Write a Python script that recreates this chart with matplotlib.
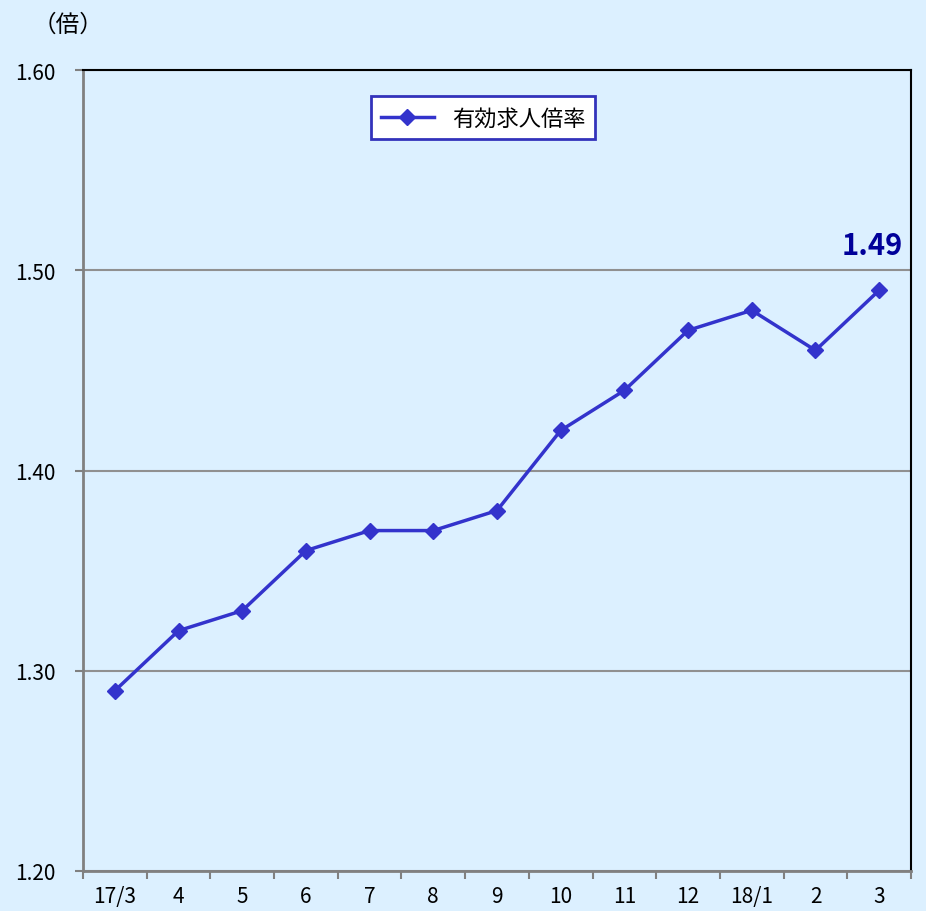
import numpy as np
import matplotlib.pyplot as plt

plt.rcParams['font.family'] = ['Noto Sans CJK JP', 'DejaVu Sans']

months = ['17/3', '4', '5', '6', '7', '8', '9', '10', '11', '12', '18/1', '2', '3']
ratio = [1.29, 1.32, 1.33, 1.36, 1.37, 1.37, 1.38, 1.42, 1.44, 1.47, 1.48, 1.46, 1.49]

bg = '#dcf0ff'
fig = plt.figure(figsize=(9.26, 9.12), dpi=100, facecolor=bg)
ax = fig.add_axes([0.0896, 0.0439, 0.8942, 0.8782], facecolor=bg)

x = np.arange(len(months))
ax.plot(x, ratio, color='#3333cc', lw=2.5, marker='D', ms=8, label='有効求人倍率')

ax.set_xlim(-0.5, len(months) - 0.5)
ax.set_ylim(1.20, 1.60)
ax.set_yticks(np.arange(1.20, 1.61, 0.10))
ax.set_yticklabels(['%.2f' % v for v in np.arange(1.20, 1.61, 0.10)], fontsize=15)
ax.set_xticks(x)
ax.set_xticklabels(months, fontsize=15)
ax.set_xticks(np.arange(-0.5, len(months), 1), minor=True)
ax.tick_params(axis='x', which='major', length=0, pad=10)
ax.tick_params(axis='x', which='minor', length=6, color='#808080', width=1.5)
ax.tick_params(axis='y', length=6, color='#808080', width=1.5, pad=14)

ax.grid(axis='y', color='#909090', lw=1.5)
for s in ['top', 'right']:
    ax.spines[s].set_color('black')
    ax.spines[s].set_linewidth(1.5)
for s in ['left', 'bottom']:
    ax.spines[s].set_color('#808080')
    ax.spines[s].set_linewidth(2)

ax.text(x[-1] + 0.38, ratio[-1] + 0.015, '%.2f' % ratio[-1], color='#000099', fontsize=21,
        fontweight='bold', ha='right', va='bottom')

leg = ax.legend(loc='upper left', bbox_to_anchor=(0.334, 0.981), fontsize=16, fancybox=False,
                handlelength=2.4, borderpad=0.45)
leg.get_frame().set_edgecolor('#3333bb')
leg.get_frame().set_linewidth(2)
leg.get_frame().set_facecolor('white')
leg.get_frame().set_alpha(1)

fig.text(0.035, 0.972, '（倍）', fontsize=17, va='center')

fig.savefig('out.png', dpi=100, facecolor=bg)
